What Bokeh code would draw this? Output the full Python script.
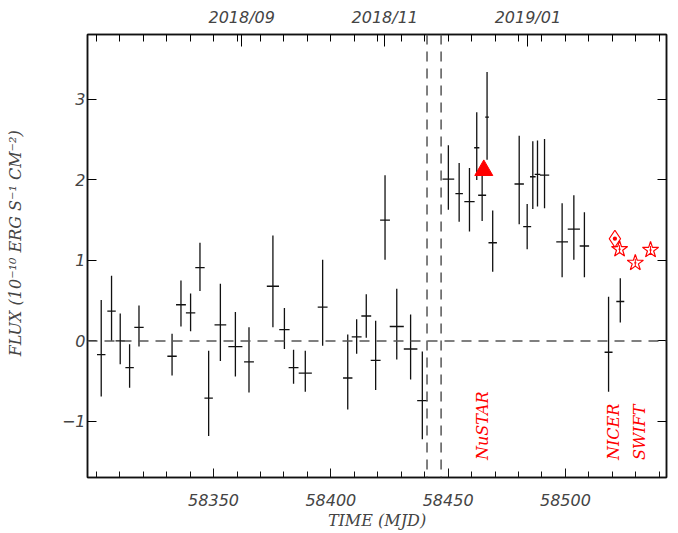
import numpy as np
from bokeh.plotting import figure
from bokeh.models import Range1d, LinearAxis, FixedTicker, Span
from bokeh.core.properties import value
from bokeh.embed import file_html
from bokeh.resources import INLINE

# ---- data ----
mjd = [58302.1, 58306.5, 58310.2, 58314.2, 58318.2, 58332.3, 58336.1, 58340.2,
       58344.2, 58347.9, 58352.9, 58359.3, 58365.1, 58375.3, 58380.2, 58384.1,
       58389.1, 58396.5, 58407.2, 58411.0, 58415.1, 58419.1, 58423.1, 58428.1,
       58434.0, 58439.0, 58450.1, 58454.7, 58459.1, 58462.2, 58464.5, 58466.6,
       58469.0, 58480.3, 58483.7, 58486.1, 58488.1, 58491.1, 58498.6, 58503.6,
       58508.1, 58518.4, 58523.4]
flux = [-0.17, 0.37, 0.00, -0.33, 0.17, -0.19, 0.45, 0.35,
        0.91, -0.71, 0.20, -0.07, -0.26, 0.68, 0.14, -0.33,
        -0.40, 0.42, -0.46, 0.05, 0.31, -0.24, 1.50, 0.18,
        -0.10, -0.74, 2.01, 1.83, 1.73, 2.40, 1.81, 2.78,
        1.22, 1.95, 1.42, 2.04, 2.07, 2.06, 1.23, 1.39,
        1.18, -0.14, 0.49]
flux_hi = [0.51, 0.81, 0.34, -0.04, 0.44, 0.09, 0.75, 0.59,
           1.22, -0.12, 0.71, 0.36, 0.17, 1.31, 0.41, -0.11,
           -0.12, 1.01, 0.08, 0.27, 0.58, 0.25, 2.06, 0.65,
           0.33, -0.13, 2.43, 2.21, 2.15, 2.84, 2.05, 3.34,
           1.62, 2.55, 1.70, 2.48, 2.49, 2.51, 1.71, 1.81,
           1.60, 0.55, 0.78]
flux_lo = [-0.69, 0.00, -0.29, -0.58, -0.07, -0.43, 0.18, 0.12,
           0.62, -1.18, -0.25, -0.44, -0.64, 0.17, -0.10, -0.53,
           -0.63, -0.06, -0.85, -0.16, 0.04, -0.61, 1.01, -0.23,
           -0.48, -1.22, 1.63, 1.48, 1.36, 2.00, 1.49, 2.25,
           0.86, 1.45, 1.14, 1.64, 1.67, 1.65, 0.79, 1.01,
           0.79, -0.63, 0.23]
mjd_halfwidth = [1.8, 1.8, 2.0, 1.8, 2.0, 2.0, 2.1, 2.0,
                 2.0, 1.8, 2.5, 3.0, 2.1, 2.6, 2.2, 2.1,
                 2.8, 2.1, 2.0, 2.1, 2.1, 2.1, 2.1, 3.0,
                 2.9, 2.2, 2.5, 1.6, 2.2, 1.1, 1.7, 0.8,
                 1.8, 2.0, 1.7, 1.2, 1.2, 2.0, 2.5, 2.6,
                 2.0, 1.7, 1.7]

nustar_mjd = [58465.2]
nustar_flux = [2.12]
nicer_mjd = [58521.1]
nicer_flux = [1.27]
swift_mjd = [58523.1, 58529.8, 58536.3]
swift_flux = [1.14, 0.97, 1.13]
swift_err = [0.05, 0.05, 0.05]

obs_window = [58441.0, 58447.0]

x_ticks = [58350, 58400, 58450, 58500]
x_minor = list(range(58300, 58550, 10))
y_ticks = [-1, 0, 1, 2, 3]
month_mjd = [58362, 58423, 58484]
month_labels = ["2018/09", "2018/11", "2019/01"]

instrument_labels = ["NuSTAR", "NICER", "SWIFT"]
instrument_label_mjd = [58464.6, 58520.5, 58531.7]
instrument_label_flux = [-1.48, -1.48, -1.48]

# ---- figure ----
p = figure(width=676, height=532, output_backend="svg", toolbar_location=None,
           x_range=Range1d(58296.25, 58543.1), y_range=Range1d(-1.696, 3.807),
           min_border_left=87, min_border_right=10, min_border_top=34,
           min_border_bottom=55)
p.xgrid.visible = False
p.ygrid.visible = False
p.outline_line_color = "#111111"
p.outline_line_width = 1.5
p.background_fill_color = "white"
p.border_fill_color = "white"

tick_font = "DejaVu Sans"
label_font = "DejaVu Serif"

# bottom axis
xa = p.xaxis[0]
xa.ticker = FixedTicker(ticks=x_ticks, minor_ticks=x_minor)
xa.axis_label = "TIME (MJD)"
xa.axis_label_text_font = label_font
xa.axis_label_text_font_style = "italic"
xa.axis_label_text_font_size = "16px"
xa.axis_label_standoff = 2
xa.major_label_text_font = tick_font
xa.major_label_text_font_style = "italic"
xa.major_label_text_font_size = "16px"
xa.major_label_standoff = 16
xa.major_tick_in = 9
xa.major_tick_out = 0
xa.minor_tick_in = 6
xa.minor_tick_out = 0
xa.axis_line_width = 1.5
xa.axis_line_color = "#111111"
xa.major_tick_line_color = "#111111"
xa.minor_tick_line_color = "#111111"

# left axis
ya = p.yaxis[0]
ya.ticker = FixedTicker(ticks=y_ticks, minor_ticks=[])
ya.major_label_overrides = {-1: "\u22121"}
ya.axis_label = "\u00a0" * 5 + "FLUX (10\u207b\u00b9\u2070 ERG S\u207b\u00b9 CM\u207b\u00b2)"
ya.axis_label_text_font = label_font
ya.axis_label_text_font_style = "italic"
ya.axis_label_text_font_size = "16px"
ya.axis_label_standoff = 34
ya.major_label_text_font = tick_font
ya.major_label_text_font_style = "italic"
ya.major_label_text_font_size = "16px"
ya.major_label_standoff = 2
ya.major_tick_in = 9
ya.major_tick_out = 0
ya.minor_tick_in = 0
ya.minor_tick_out = 0
ya.axis_line_width = 1.5
ya.axis_line_color = "#111111"

# top axis (calendar months)
top = LinearAxis(ticker=FixedTicker(ticks=month_mjd, minor_ticks=x_minor),
                 major_label_overrides={m: l for m, l in zip(month_mjd, month_labels)})
top.major_label_text_font = tick_font
top.major_label_text_font_style = "italic"
top.major_label_text_font_size = "16px"
top.major_label_standoff = 8
top.major_tick_in = 12
top.major_tick_out = 0
top.minor_tick_in = 7
top.minor_tick_out = 0
top.axis_line_width = 1.5
top.axis_line_color = "#111111"
p.add_layout(top, "above")

# right axis (ticks only, labels hidden)
right = LinearAxis(ticker=FixedTicker(ticks=y_ticks, minor_ticks=[]))
right.major_label_text_font_size = "1px"
right.major_label_text_color = None
right.major_label_text_alpha = 0
right.major_label_standoff = 0
right.major_tick_in = 9
right.major_tick_out = 0
right.minor_tick_in = 0
right.minor_tick_out = 0
right.axis_line_width = 1.5
right.axis_line_color = "#111111"
p.add_layout(right, "right")

# reference lines
p.add_layout(Span(location=0, dimension="width", line_color="#555555",
                  line_width=1.5, line_dash="10 7"))
for m in obs_window:
    p.add_layout(Span(location=m, dimension="height", line_color="#555555",
                      line_width=1.5, line_dash="10 7"))

# error bars
mjd_a = np.array(mjd)
hw = np.array(mjd_halfwidth)
p.segment(x0=mjd_a, y0=flux_lo, x1=mjd_a, y1=flux_hi, line_color="#111111", line_width=1.3)
p.segment(x0=mjd_a - hw, y0=flux, x1=mjd_a + hw, y1=flux, line_color="#111111", line_width=1.3)

# instrument points
p.scatter(nustar_mjd, nustar_flux, marker="triangle", size=18, fill_color="red",
          line_color="red")
p.scatter(nicer_mjd, nicer_flux, marker="diamond_dot", size=17, fill_color=None,
          line_color="red", line_width=1.2)
sm = np.array(swift_mjd)
sf = np.array(swift_flux)
se = np.array(swift_err)
p.segment(x0=sm, y0=sf - se, x1=sm, y1=sf + se, line_color="red", line_width=1)
p.segment(x0=sm - 0.5, y0=sf, x1=sm + 0.5, y1=sf, line_color="red", line_width=1)
p.scatter(swift_mjd, swift_flux, marker="star", size=17, fill_color=None,
          line_color="red", line_width=1.2)

p.text(x=instrument_label_mjd, y=instrument_label_flux, text=instrument_labels,
       angle=np.pi / 2, text_align="left", text_baseline="middle",
       text_color="red", text_font=value(label_font), text_font_style="italic",
       text_font_size="16px")

open("out.html", "w").write(file_html(p, INLINE))
